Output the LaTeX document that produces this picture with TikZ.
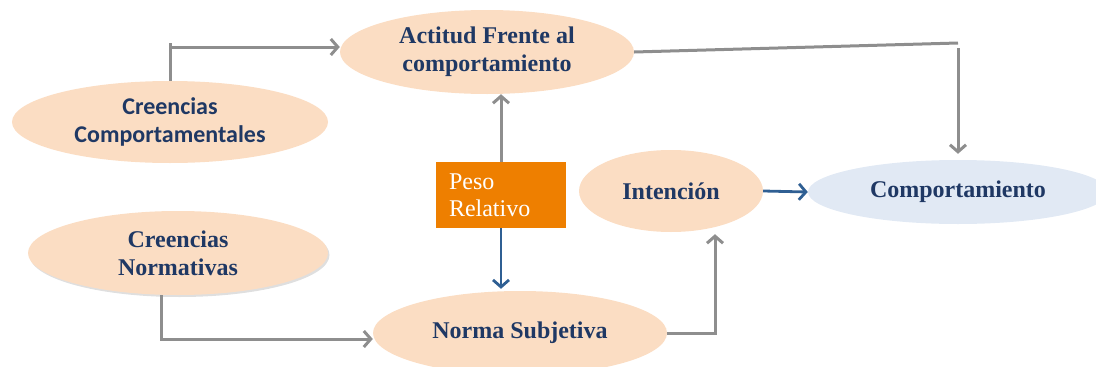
\documentclass[tikz,border=0pt]{standalone}
\usepackage{fontspec}
\setmainfont{Liberation Serif}
\newfontfamily\carl{Carlito}
\usetikzlibrary{shapes.geometric,arrows.meta,shadows}
\definecolor{peach}{HTML}{FBDDC3}
\definecolor{paleblue}{HTML}{E1E9F4}
\definecolor{navy}{HTML}{1F3864}
\definecolor{pesoorange}{HTML}{EE7F00}
\definecolor{lgray}{HTML}{8E8E8E}
\definecolor{arrowblue}{HTML}{2F5F93}
\begin{document}
\begin{tikzpicture}[x=1pt,y=-1pt,
  ell/.style={ellipse, fill=peach, inner sep=0pt, align=center, text=navy,
    font=\bfseries\fontsize{24}{28}\selectfont},
  garrow/.style={draw=lgray, line width=3pt, -{Straight Barb[length=7pt,width=16pt]}},
  gline/.style={draw=lgray, line width=3pt},
  barrow/.style={draw=arrowblue, line width=2.8pt, -{Straight Barb[length=7pt,width=16pt]}},
  pesobox/.style={rectangle, fill=pesoorange, minimum width=130pt, minimum height=66pt,
    inner sep=0pt, text width=104pt, align=left, text=white,
    font=\fontsize{24}{27}\selectfont}
]
\useasboundingbox (0,0) rectangle (1096,367);

\node[ell, minimum width=294pt, minimum height=84pt] (act) at (487,52)
  {Actitud Frente al\\comportamiento};
\node[ell, minimum width=316pt, minimum height=82pt,
  font=\carl\bfseries\fontsize{24}{28}\selectfont] (cc) at (170,122)
  {Creencias\\Comportamentales};
\node[ell, minimum width=300pt, minimum height=84pt,
  drop shadow={opacity=0.25, shadow xshift=1.5pt, shadow yshift=-2pt}] (cn) at (178,253)
  {Creencias\\Normativas};
\node[ell, minimum width=294pt, minimum height=84pt] (ns) at (520,333)
  {Norma Subjetiva};
\node[ell, minimum width=184pt, minimum height=82pt] (int) at (671,191)
  {Intención};
\node[ell, fill=paleblue, minimum width=300pt, minimum height=64pt] (comp) at (958,192)
  {Comportamiento};
\node[pesobox] (peso) at (501,195) {Peso\\Relativo};

% Creencias Comportamentales -> Actitud
\coordinate (c1) at (170,43);
\draw[gline] (cc.north) -- (c1);
\draw[garrow] ([yshift=-4pt]c1) -- ([yshift=5pt]act.west);

% Actitud -> Comportamiento
\coordinate (k1) at (958,43);
\draw[gline] (act.east) -- (k1);
\draw[garrow] ([yshift=-5pt]k1) -- ([yshift=6pt]comp.north);

% Peso -> Actitud
\draw[garrow] (peso.north) -- (peso.north |- act.south);
% Peso -> Norma
\draw[barrow] (peso.south) -- ([yshift=2pt]peso.south |- ns.north);

% Norma -> Intencion
\draw[garrow] (ns.east) -| ([xshift=44pt,yshift=-2pt]int.south);

% Intencion -> Comportamiento
\draw[barrow] (int.east) -- (comp.west);

% Creencias Normativas -> Norma
\draw[garrow] ([xshift=-17pt]cn.south) |- ([yshift=-6pt]ns.west);
\end{tikzpicture}
\end{document}
